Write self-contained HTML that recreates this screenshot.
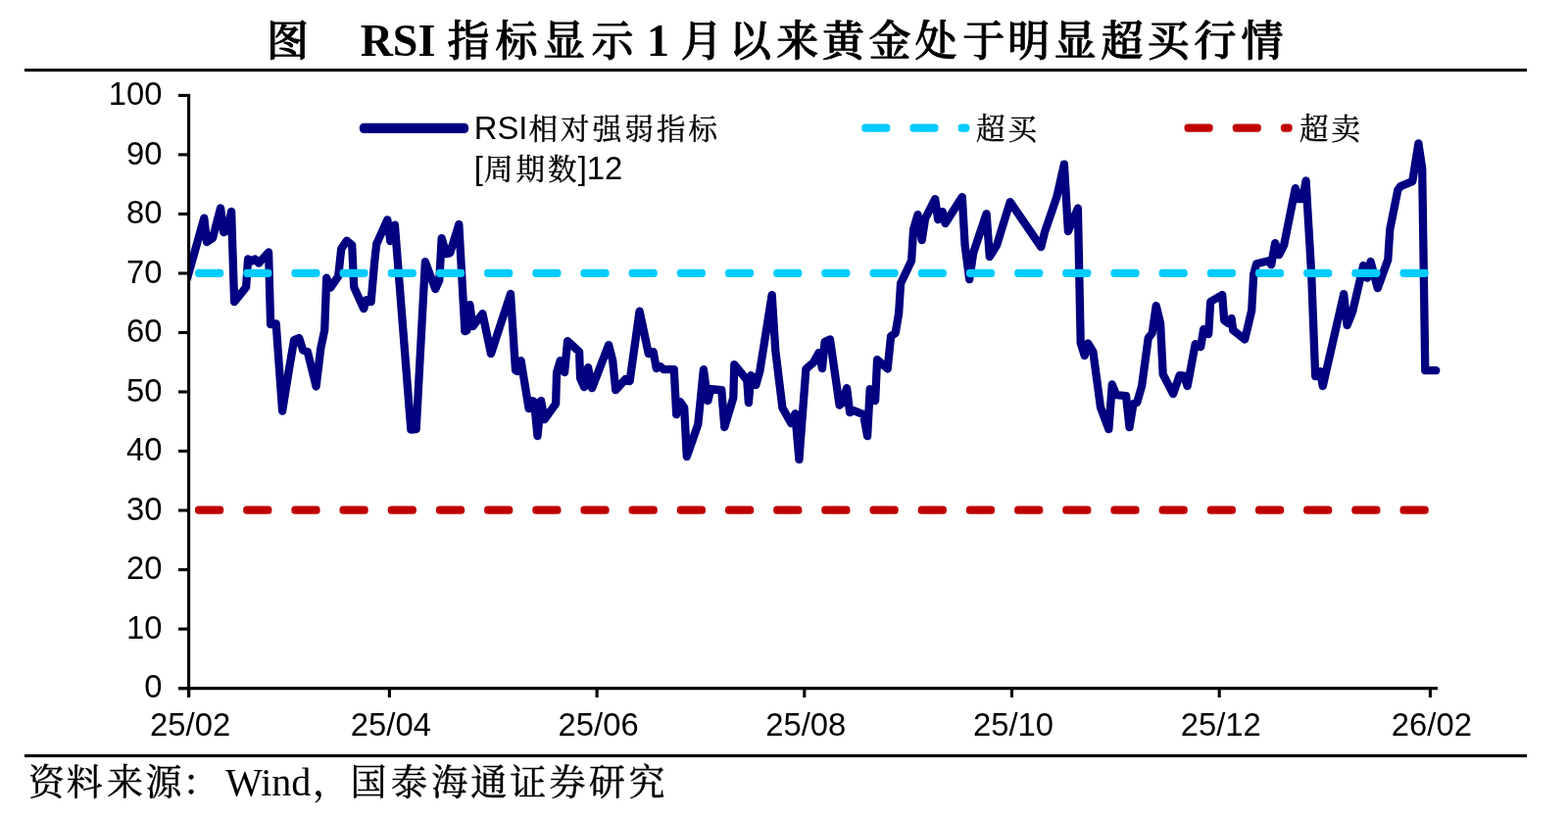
<!DOCTYPE html>
<html lang="zh"><head><meta charset="utf-8"><title>RSI</title>
<style>
html,body{margin:0;padding:0;background:#fff;}
body{width:1600px;height:834px;overflow:hidden;position:relative;}
svg{position:absolute;left:0;top:0;display:block;}
.ax text{font-family:"Liberation Sans",sans-serif;font-size:32.8px;fill:#000;}
.lg{font-family:"Liberation Sans","Noto Serif CJK SC",serif;font-size:32.8px;fill:#000;}
.lgc{font-size:29.5px;letter-spacing:3.1px;stroke:#000;stroke-width:0.4px;}
.ttl{font-family:"Liberation Serif","Noto Serif CJK SC",serif;font-weight:500;font-size:43px;fill:#000;stroke:#000;stroke-width:1px;stroke-linejoin:round;}
.ttlL{font-family:"Liberation Serif",serif;font-size:46px;font-weight:bold;stroke:none;}
.src{font-family:"Liberation Serif","Noto Serif CJK SC",serif;font-size:37px;fill:#000;stroke:#000;stroke-width:0.45px;}
.srcL{font-family:"Liberation Serif",serif;font-size:40px;stroke:none;}
</style></head><body>
<svg width="1600" height="834" viewBox="0 0 1600 834">
<rect width="1600" height="834" fill="#fff"/>
<!-- title -->
<g class="ttl" text-anchor="middle">
<text x="293.5" y="56.5">图</text>
<text x="406" y="56.8" class="ttlL">RSI</text>
<text x="478 527 575.6 625" y="56.5">指标显示</text>
<text x="671.5" y="56.8" class="ttlL">1</text>
<text x="716 765.6 813.8 860.6 908 955 1003.8 1049.4 1096.9 1145 1191.9 1240 1288" y="56.5">月以来黄金处于明显超买行情</text>
</g>
<rect x="25" y="70" width="1533" height="3.1" fill="#000"/>
<rect x="25" y="770" width="1533" height="3.1" fill="#000"/>
<!-- series -->
<clipPath id="cp"><rect x="192.6" y="90" width="1300" height="620"/></clipPath>
<path clip-path="url(#cp)" d="M191.0,284.5 L208.3,222.6 L211.0,247.1 L217.0,243.1 L225.1,212.4 L228.1,237.1 L231.7,235.7 L236.1,216.0 L239.1,308.1 L251.1,293.1 L253.1,264.5 L257.1,266.5 L260.1,264.5 L264.1,268.5 L274.1,257.5 L276.1,331.2 L281.7,330.4 L288.1,419.5 L295.1,376.1 L300.1,347.0 L305.2,345.0 L309.2,357.6 L313.8,359.0 L322.6,394.5 L327.2,356.0 L331.2,337.0 L333.2,283.7 L337.2,293.7 L345.2,282.1 L348.2,254.1 L353.8,245.7 L359.2,250.1 L361.2,293.1 L371.2,315.2 L373.8,306.1 L378.6,308.1 L382.2,267.1 L384.2,249.1 L395.3,224.4 L398.3,246.1 L402.9,229.6 L419.3,438.5 L424.7,438.1 L433.9,267.1 L444.3,295.1 L448.3,286.1 L450.7,243.1 L455.3,259.1 L459.3,258.1 L468.3,229.0 L474.4,338.2 L476.4,337.2 L479.4,311.1 L482.4,333.2 L492.4,320.2 L501.0,361.1 L521.0,300.0 L526.0,378.1 L528.0,379.1 L531.6,368.1 L539.6,417.2 L543.1,409.2 L545.1,410.0 L548.5,445.1 L552.1,409.2 L555.7,428.2 L567.1,412.2 L568.1,380.1 L571.7,368.1 L576.1,380.1 L579.1,348.1 L591.1,359.1 L592.1,386.1 L596.1,395.2 L600.1,375.1 L604.1,396.2 L621.1,352.1 L625.2,368.1 L628.2,398.2 L638.2,387.1 L642.6,389.1 L652.6,317.7 L661.8,361.1 L666.6,359.1 L669.8,376.1 L673.8,374.1 L677.2,377.1 L687.8,377.1 L690.2,423.2 L694.2,410.2 L698.2,416.2 L700.8,466.1 L712.3,433.1 L717.9,377.1 L722.3,409.2 L725.3,397.2 L736.3,398.2 L739.3,436.1 L748.3,406.0 L749.3,372.1 L762.3,388.1 L763.9,411.2 L766.3,383.1 L771.3,393.1 L775.3,379.1 L787.7,301.0 L791.3,358.1 L798.4,416.2 L807.4,432.2 L811.4,422.2 L815.4,469.1 L822.4,376.7 L830.0,370.1 L835.6,360.1 L839.0,376.1 L841.6,349.1 L847.0,346.5 L856.6,413.7 L859.6,411.1 L864.1,396.1 L867.1,421.1 L871.1,419.1 L881.1,423.1 L885.1,445.2 L887.7,397.1 L893.1,409.1 L895.1,367.1 L905.7,376.5 L909.1,343.1 L913.7,340.0 L917.1,320.0 L919.1,289.2 L930.1,266.1 L932.1,234.1 L936.5,219.1 L940.7,245.1 L944.1,223.1 L954.2,203.1 L957.2,224.1 L961.8,216.1 L964.6,228.1 L981.8,201.1 L984.6,250.1 L989.2,285.2 L993.2,258.1 L1006.6,218.1 L1009.8,262.1 L1017.2,250.1 L1030.7,206.1 L1062.3,252.1 L1066.3,236.1 L1078.3,201.1 L1085.9,167.6 L1089.9,236.1 L1099.9,212.5 L1102.7,350.1 L1106.7,363.1 L1110.3,350.5 L1115.4,359.1 L1123.0,415.7 L1131.4,438.2 L1134.8,392.5 L1139.0,403.1 L1149.1,404.1 L1152.5,436.2 L1156.5,412.1 L1160.1,411.1 L1165.1,394.1 L1171.7,345.1 L1175.7,340.0 L1179.7,312.0 L1184.1,330.0 L1186.7,382.1 L1197.1,402.1 L1203.7,383.1 L1208.1,383.7 L1211.7,394.1 L1219.7,351.1 L1225.2,354.1 L1228.2,336.0 L1233.2,341.0 L1235.2,308.0 L1247.2,301.0 L1249.2,327.0 L1253.2,330.0 L1256.6,325.0 L1258.2,337.0 L1270.2,346.5 L1277.2,317.0 L1279.2,280.2 L1282.2,269.2 L1294.6,266.2 L1297.2,270.2 L1301.2,248.1 L1305.2,260.2 L1310.2,250.1 L1321.8,192.1 L1325.2,203.1 L1329.2,203.1 L1332.6,184.5 L1338.2,280.1 L1342.2,384.2 L1347.2,379.2 L1349.8,394.2 L1371.2,300.1 L1374.6,332.1 L1380.2,318.1 L1391.2,271.0 L1395.2,283.7 L1398.6,267.0 L1405.8,294.1 L1416.3,265.0 L1418.3,234.1 L1426.3,194.1 L1429.3,190.1 L1441.3,185.1 L1447.4,146.4 L1451.2,172.1 L1454.3,378.2 L1465.3,378.2" fill="none" stroke="#000080" stroke-width="8.3" stroke-linejoin="round" stroke-linecap="round"/>
<g fill="#00ccff"><rect x="199.0" y="274.7" width="29.2" height="8.2" rx="3.6"/><rect x="248.2" y="274.7" width="29.2" height="8.2" rx="3.6"/><rect x="297.4" y="274.7" width="29.2" height="8.2" rx="3.6"/><rect x="346.5" y="274.7" width="29.2" height="8.2" rx="3.6"/><rect x="395.7" y="274.7" width="29.2" height="8.2" rx="3.6"/><rect x="444.9" y="274.7" width="29.2" height="8.2" rx="3.6"/><rect x="494.1" y="274.7" width="29.2" height="8.2" rx="3.6"/><rect x="543.3" y="274.7" width="29.2" height="8.2" rx="3.6"/><rect x="592.4" y="274.7" width="29.2" height="8.2" rx="3.6"/><rect x="641.6" y="274.7" width="29.2" height="8.2" rx="3.6"/><rect x="690.8" y="274.7" width="29.2" height="8.2" rx="3.6"/><rect x="740.0" y="274.7" width="29.2" height="8.2" rx="3.6"/><rect x="789.2" y="274.7" width="29.2" height="8.2" rx="3.6"/><rect x="838.3" y="274.7" width="29.2" height="8.2" rx="3.6"/><rect x="887.5" y="274.7" width="29.2" height="8.2" rx="3.6"/><rect x="936.7" y="274.7" width="29.2" height="8.2" rx="3.6"/><rect x="985.9" y="274.7" width="29.2" height="8.2" rx="3.6"/><rect x="1035.1" y="274.7" width="29.2" height="8.2" rx="3.6"/><rect x="1084.2" y="274.7" width="29.2" height="8.2" rx="3.6"/><rect x="1133.4" y="274.7" width="29.2" height="8.2" rx="3.6"/><rect x="1182.6" y="274.7" width="29.2" height="8.2" rx="3.6"/><rect x="1231.8" y="274.7" width="29.2" height="8.2" rx="3.6"/><rect x="1281.0" y="274.7" width="29.2" height="8.2" rx="3.6"/><rect x="1330.1" y="274.7" width="29.2" height="8.2" rx="3.6"/><rect x="1379.3" y="274.7" width="29.2" height="8.2" rx="3.6"/><rect x="1428.5" y="274.7" width="29.2" height="8.2" rx="3.6"/></g>
<g fill="#c00000"><rect x="199.0" y="516.6" width="29.2" height="8.2" rx="3.6"/><rect x="248.2" y="516.6" width="29.2" height="8.2" rx="3.6"/><rect x="297.4" y="516.6" width="29.2" height="8.2" rx="3.6"/><rect x="346.5" y="516.6" width="29.2" height="8.2" rx="3.6"/><rect x="395.7" y="516.6" width="29.2" height="8.2" rx="3.6"/><rect x="444.9" y="516.6" width="29.2" height="8.2" rx="3.6"/><rect x="494.1" y="516.6" width="29.2" height="8.2" rx="3.6"/><rect x="543.3" y="516.6" width="29.2" height="8.2" rx="3.6"/><rect x="592.4" y="516.6" width="29.2" height="8.2" rx="3.6"/><rect x="641.6" y="516.6" width="29.2" height="8.2" rx="3.6"/><rect x="690.8" y="516.6" width="29.2" height="8.2" rx="3.6"/><rect x="740.0" y="516.6" width="29.2" height="8.2" rx="3.6"/><rect x="789.2" y="516.6" width="29.2" height="8.2" rx="3.6"/><rect x="838.3" y="516.6" width="29.2" height="8.2" rx="3.6"/><rect x="887.5" y="516.6" width="29.2" height="8.2" rx="3.6"/><rect x="936.7" y="516.6" width="29.2" height="8.2" rx="3.6"/><rect x="985.9" y="516.6" width="29.2" height="8.2" rx="3.6"/><rect x="1035.1" y="516.6" width="29.2" height="8.2" rx="3.6"/><rect x="1084.2" y="516.6" width="29.2" height="8.2" rx="3.6"/><rect x="1133.4" y="516.6" width="29.2" height="8.2" rx="3.6"/><rect x="1182.6" y="516.6" width="29.2" height="8.2" rx="3.6"/><rect x="1231.8" y="516.6" width="29.2" height="8.2" rx="3.6"/><rect x="1281.0" y="516.6" width="29.2" height="8.2" rx="3.6"/><rect x="1330.1" y="516.6" width="29.2" height="8.2" rx="3.6"/><rect x="1379.3" y="516.6" width="29.2" height="8.2" rx="3.6"/><rect x="1428.5" y="516.6" width="29.2" height="8.2" rx="3.6"/></g>
<!-- axes -->
<g stroke="#000" stroke-width="3.1" fill="none">
<line x1="192.6" y1="96" x2="192.6" y2="712"/>
<line x1="182" y1="702.6" x2="1467" y2="702.6"/>
<line x1="182" y1="702.6" x2="194" y2="702.6"/><line x1="182" y1="642.1" x2="194" y2="642.1"/><line x1="182" y1="581.6" x2="194" y2="581.6"/><line x1="182" y1="521.0" x2="194" y2="521.0"/><line x1="182" y1="460.5" x2="194" y2="460.5"/><line x1="182" y1="400.0" x2="194" y2="400.0"/><line x1="182" y1="339.5" x2="194" y2="339.5"/><line x1="182" y1="279.0" x2="194" y2="279.0"/><line x1="182" y1="218.4" x2="194" y2="218.4"/><line x1="182" y1="157.9" x2="194" y2="157.9"/><line x1="182" y1="97.4" x2="194" y2="97.4"/>
<line x1="192.6" y1="702.6" x2="192.6" y2="712"/><line x1="397.4" y1="702.6" x2="397.4" y2="712"/><line x1="609.1" y1="702.6" x2="609.1" y2="712"/><line x1="820.8" y1="702.6" x2="820.8" y2="712"/><line x1="1032.5" y1="702.6" x2="1032.5" y2="712"/><line x1="1244.2" y1="702.6" x2="1244.2" y2="712"/><line x1="1459.4" y1="702.6" x2="1459.4" y2="712"/>
</g>
<g class="ax"><text x="165.5" y="712.2" text-anchor="end">0</text><text x="165.5" y="651.7" text-anchor="end">10</text><text x="165.5" y="591.2" text-anchor="end">20</text><text x="165.5" y="530.6" text-anchor="end">30</text><text x="165.5" y="470.1" text-anchor="end">40</text><text x="165.5" y="409.6" text-anchor="end">50</text><text x="165.5" y="349.1" text-anchor="end">60</text><text x="165.5" y="288.6" text-anchor="end">70</text><text x="165.5" y="228.0" text-anchor="end">80</text><text x="165.5" y="167.5" text-anchor="end">90</text><text x="165.5" y="107.0" text-anchor="end">100</text><text x="194.1" y="750.5" text-anchor="middle">25/02</text><text x="398.9" y="750.5" text-anchor="middle">25/04</text><text x="610.6" y="750.5" text-anchor="middle">25/06</text><text x="822.3" y="750.5" text-anchor="middle">25/08</text><text x="1034.0" y="750.5" text-anchor="middle">25/10</text><text x="1245.7" y="750.5" text-anchor="middle">25/12</text><text x="1460.9" y="750.5" text-anchor="middle">26/02</text></g>
<!-- legend -->
<rect x="366.8" y="125.7" width="111.4" height="10.4" rx="4.5" fill="#000080"/>
<text class="lg" x="483.8" y="141.5">RSI<tspan class="lgc" dx="1">相对强弱指标</tspan></text>
<text class="lg" x="483.8" y="183">[<tspan class="lgc" dx="1">周期数</tspan><tspan dx="-2">]12</tspan></text>
<g fill="#00ccff"><rect x="879.2" y="126.5" width="29.2" height="8.2" rx="3.6"/><rect x="928.4" y="126.5" width="29.2" height="8.2" rx="3.6"/><rect x="977.6" y="126.5" width="11.8" height="8.2" rx="3.6"/></g>
<text class="lg lgc" x="996" y="141.5">超买</text>
<g fill="#c00000"><rect x="1208.5" y="126.5" width="29.2" height="8.2" rx="3.6"/><rect x="1257.7" y="126.5" width="29.2" height="8.2" rx="3.6"/><rect x="1306.9" y="126.5" width="11.8" height="8.2" rx="3.6"/></g>
<text class="lg lgc" x="1326" y="141.5">超卖</text>
<!-- source -->
<g class="src" text-anchor="middle">
<text x="47.5 86.3 127.5 167" y="812">资料来源</text>
<text x="186.5" y="812" text-anchor="start">：</text>
<text x="273.7" y="812.3" class="srcL">Wind</text>
<text x="319" y="812" text-anchor="start">，</text>
<text x="376 417.5 458.8 498.8 538.8 579 619.4 660" y="812">国泰海通证券研究</text>
</g>
</svg>
</body></html>
